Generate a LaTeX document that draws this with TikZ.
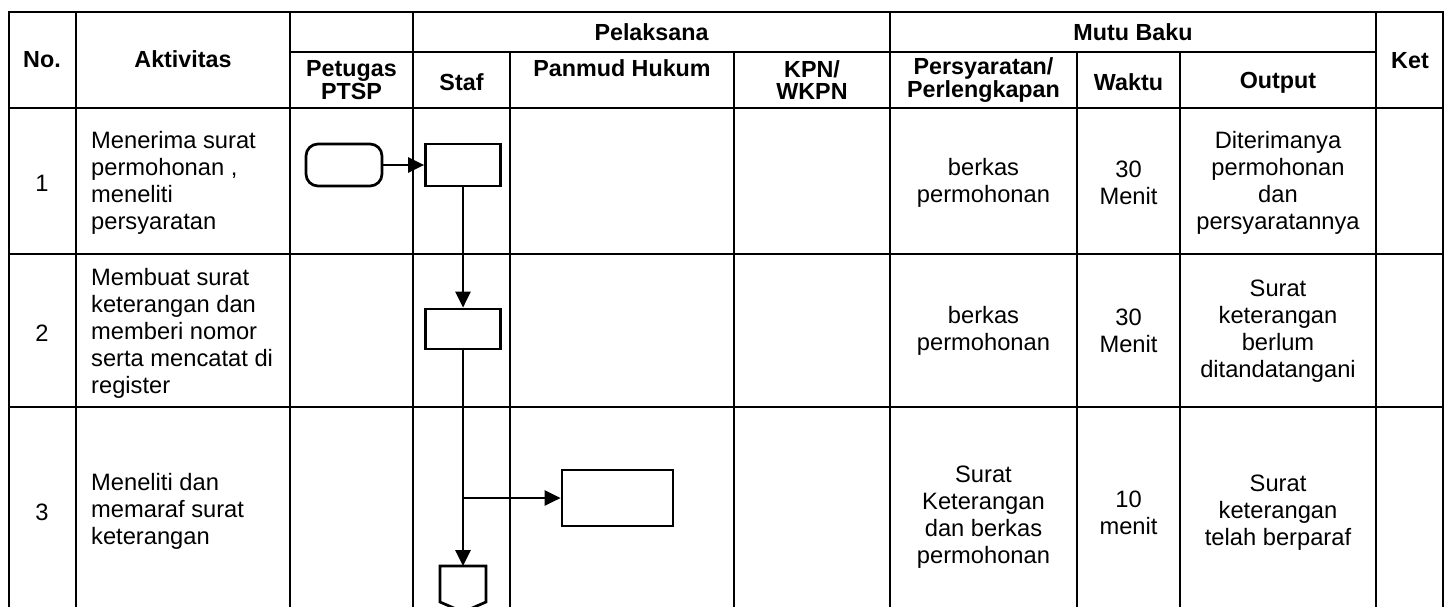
\documentclass[tikz,border=0pt]{standalone}
\usepackage{fontspec}
\setmainfont{Liberation Sans}
\usetikzlibrary{arrows.meta}
\begin{document}
\begin{tikzpicture}[x=1pt,y=-1pt,
  grid/.style={line width=2.7pt,line cap=rect},
  head/.style={font=\bfseries\fontsize{23.3}{22.5}\selectfont,align=center,inner sep=0pt},
  body/.style={font=\fontsize{23.7}{27}\selectfont,align=center,inner sep=0pt},
  activity/.style={font=\fontsize{23.7}{27}\selectfont,align=left,anchor=west,inner sep=0pt},
  procbox/.style={draw,line width=2.7pt,minimum width=75pt,minimum height=42pt,inner sep=0pt},
  flow/.style={line width=2.7pt,-{Triangle[length=16pt,width=15pt]}}]
\useasboundingbox (0,0) rectangle (1447,607);
\fill[white] (0,0) rectangle (1447,607);
\begin{scope}
\clip (0,0) rectangle (1447,607);
% table rules
\draw[grid] (9,12) -- (1443,12);
\draw[grid] (290,52) -- (1376,52);
\draw[grid] (9,108) -- (1443,108);
\draw[grid] (9,254) -- (1443,254);
\draw[grid] (9,407) -- (1443,407);
\foreach \x in {9,76,290,413,890,1376,1443}
  \draw[grid] (\x,12) -- (\x,640);
\foreach \x in {510,734,1077,1180}
  \draw[grid] (\x,52) -- (\x,640);

% header
\node[head] (hno) at (42,60) {No.};
\node[head] (hakt) at (183,59) {Aktivitas};
\node[head] (hpel) at (651.5,32) {Pelaksana};
\node[head] (hmutu) at (1133,32) {Mutu Baku};
\node[head] (hket) at (1410,61) {Ket};
\node[head] (hptsp) at (351.5,80) {Petugas\\PTSP};
\node[head] (hstaf) at (461.5,82) {Staf};
\node[head] (hpan) at (622,68) {Panmud Hukum};
\node[head] (hkpn) at (812,80) {KPN/\\WKPN};
\node[head] (hsyarat) at (983.5,80) {Persyaratan/\\Perlengkapan};
\node[head] (hwaktu) at (1128.5,82) {Waktu};
\node[head] (hout) at (1278,83) {Output};

% row 1
\node[body] (n1) at (42,183) {1};
\node[activity] (a1) at (91,183) {Menerima surat\\permohonan ,\\meneliti\\persyaratan};
\node[body] (s1) at (983.5,183) {berkas\\permohonan};
\node[body] (w1) at (1128.5,183) {30\\Menit};
\node[body] (o1) at (1278,183) {Diterimanya\\permohonan\\dan\\persyaratannya};

% row 2
\node[body] (n2) at (42,333) {2};
\node[activity] (a2) at (91,333) {Membuat surat\\keterangan dan\\memberi nomor\\serta mencatat di\\register};
\node[body] (s2) at (983.5,331) {berkas\\permohonan};
\node[body] (w2) at (1128.5,331) {30\\Menit};
\node[body] (o2) at (1278,331) {Surat\\keterangan\\berlum\\ditandatangani};

% row 3
\node[body] (n3) at (42,512) {3};
\node[activity] (a3) at (91,511) {Meneliti dan\\memaraf surat\\keterangan};
\node[body] (s3) at (983.5,517) {Surat\\Keterangan\\dan berkas\\permohonan};
\node[body] (w3) at (1128.5,513) {10\\menit};
\node[body] (o3) at (1278,513) {Surat\\keterangan\\telah berparaf};

% flow shapes
\node[draw,line width=2.7pt,rounded corners=12pt,minimum width=76pt,minimum height=42pt] (start) at (344,165) {};
\node[procbox] (box1) at (463,165) {};
\node[procbox,minimum height=40pt] (box2) at (463,329) {};
\node[procbox,minimum width=111pt,minimum height=56pt] (box3) at (617.5,498) {};
\coordinate (offpage) at (463,566);
\draw[line width=2.7pt,line join=miter] (offpage) -- (486,566) -- (486,602) -- (463,612) -- (440,602) -- (440,566) -- cycle;
\coordinate (branch) at (box2.south |- box3.west);

% connectors
\draw[flow] (start) -- (box1);
\draw[flow] (box1) -- (box2);
\draw[flow] (box2) -- (offpage);
\draw[flow] (branch) -- (box3);
\end{scope}
\end{tikzpicture}
\end{document}
